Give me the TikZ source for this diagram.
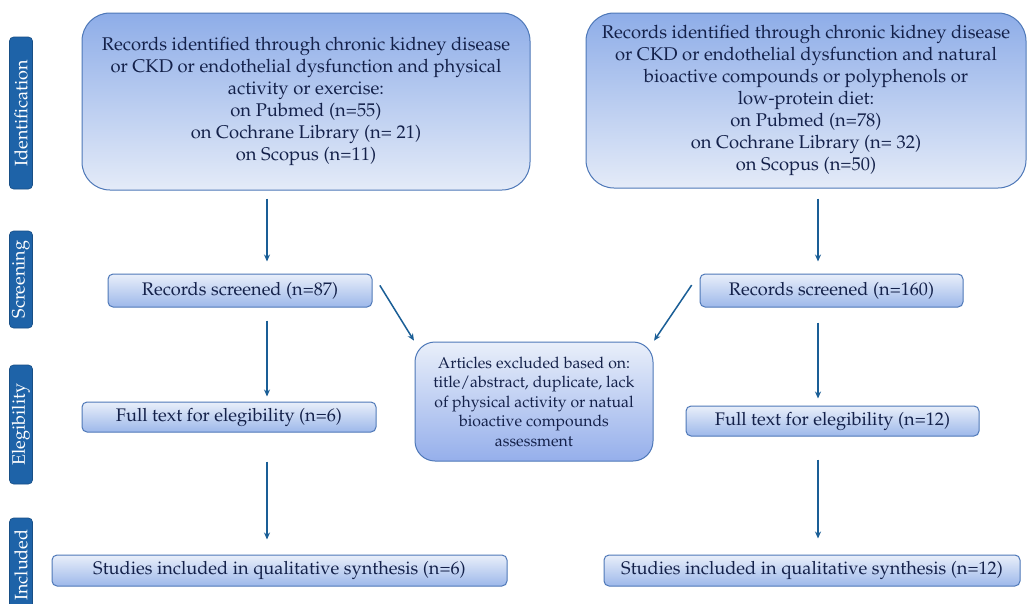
\documentclass[tikz,border=0pt]{standalone}
\usepackage[T1]{fontenc}
\usepackage{mathpazo}
\usetikzlibrary{arrows.meta}
\definecolor{bigtop}{HTML}{8EADE8}
\definecolor{bigbot}{HTML}{E4EBF8}
\definecolor{smtop}{HTML}{E9EFFA}
\definecolor{smbot}{HTML}{9DB8EA}
\definecolor{bord}{HTML}{4E78B8}
\definecolor{tabc}{HTML}{1E63A8}
\definecolor{txt}{HTML}{14214A}
\definecolor{arrc}{HTML}{1A5E96}
\begin{document}
\begin{tikzpicture}[x=1pt,y=-1pt,
  tabbox/.style={rectangle, rounded corners=4pt, fill=tabc, draw=tabc!80!black, line width=0.6pt,
     text=white, rotate=90, inner sep=0pt, font=\fontsize{18}{20}\selectfont},
  bigbox/.style={rectangle, rounded corners=28pt, draw=bord, line width=1pt,
     top color=bigtop, bottom color=bigbot, text=txt, align=center, inner sep=0pt,
     font=\fontsize{18.4}{22}\selectfont},
  smbox/.style={rectangle, rounded corners=5pt, draw=bord, line width=1pt,
     top color=smtop, bottom color=smbot, text=txt, align=center, inner sep=0pt,
     font=\fontsize{18.2}{22}\selectfont},
  exbox/.style={rectangle, rounded corners=20pt, draw=bord, line width=1pt,
     top color=smtop, bottom color=smbot!95!blue, text=txt, align=center, inner sep=0pt,
     font=\fontsize{15.8}{19.5}\selectfont},
  arr/.style={draw=arrc, line width=1.5pt, -{Stealth[length=7pt,width=6pt]}}
]
\useasboundingbox (0,0) rectangle (1027,603);
\fill[white] (0,0) rectangle (1027,603);

% stage tabs
\node[tabbox, minimum width=152pt, minimum height=23pt] (tid) at (21,113) {Identification};
\node[tabbox, minimum width=97pt, minimum height=23pt] (tsc) at (21,279.5) {Screening};
\node[tabbox, minimum width=119pt, minimum height=23pt] (tel) at (21,424.5) {Elegibility};
\node[tabbox, minimum width=94pt, minimum height=23pt] (tin) at (21,565) {Included};

% top boxes
\node[bigbox, minimum width=448pt, minimum height=177pt] (L1) at (306,101.5)
 {Records identified through chronic kidney disease\\
  or CKD or endothelial dysfunction and physical\\
  activity or exercise:\\
  on Pubmed (n=55)\\
  on Cochrane Library (n= 21)\\
  on Scopus (n=11)};
\node[bigbox, minimum width=440pt, minimum height=175pt] (R1) at (806,100.5)
 {Records identified through chronic kidney disease\\
  or CKD or endothelial dysfunction and natural\\
  bioactive compounds or polyphenols or\\
  low-protein diet:\\
  on Pubmed (n=78)\\
  on Cochrane Library (n= 32)\\
  on Scopus (n=50)};

% screening
\node[smbox, minimum width=264pt, minimum height=33pt] (L2) at (240,290.5) {Records screened (n=87)};
\node[smbox, minimum width=263pt, minimum height=33pt] (R2) at (831.5,290.5) {Records screened (n=160)};

% excluded
\node[exbox, minimum width=238pt, minimum height=119pt] (EX) at (534,401.5)
 {Articles excluded based on:\\
  title/abstract, duplicate, lack\\
  of physical activity or natual\\
  bioactive compounds\\
  assessment};

% eligibility
\node[smbox, minimum width=294pt, minimum height=30pt] (L3) at (229,417) {Full text for elegibility (n=6)};
\node[smbox, minimum width=293pt, minimum height=30pt] (R3) at (832.5,421) {Full text for elegibility (n=12)};

% included
\node[smbox, minimum width=455pt, minimum height=31pt] (L4) at (279.5,570.5) {Studies included in qualitative synthesis (n=6)};
\node[smbox, minimum width=416pt, minimum height=31pt] (R4) at (812,570.5) {Studies included in qualitative synthesis (n=12)};

% column guides
\coordinate (lx) at (267,0);
\coordinate (rx) at (818,0);

% arrows left
\draw[arr, shorten <=8pt, shorten >=12pt] (L1.south -| lx) -- (L2.north -| lx);
\draw[arr, shorten <=13pt, shorten >=5pt] (L2.south -| lx) -- (L3.north -| lx);
\draw[arr, shorten <=29pt, shorten >=15pt] (L3.south -| lx) -- (L4.north -| lx);
% arrows right
\draw[arr, shorten <=10pt, shorten >=12pt] (R1.south -| rx) -- (R2.north -| rx);
\draw[arr, shorten <=15pt, shorten >=7pt] (R2.south -| rx) -- (R3.north -| rx);
\draw[arr, shorten <=23pt, shorten >=16pt] (R3.south -| rx) -- (R4.north -| rx);
% diagonals
\draw[arr, shorten <=14pt, shorten >=1pt] (L2.north east) -- (EX.north west);
\draw[arr, shorten <=14pt, shorten >=1pt] (R2.north west) -- (EX.north east);
\end{tikzpicture}
\end{document}
